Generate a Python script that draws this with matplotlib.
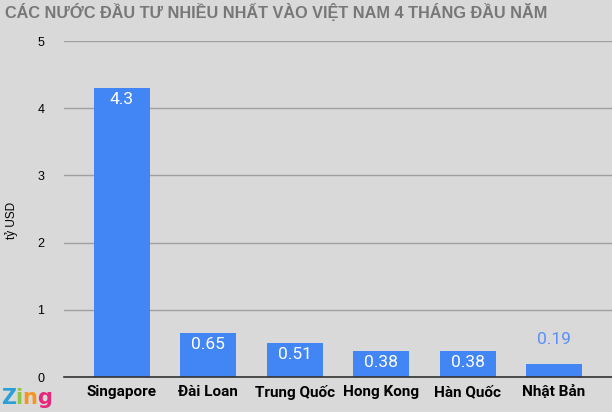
import matplotlib.pyplot as plt
import matplotlib.font_manager as fm

# dữ liệu
countries = ["Singapore", "Đài Loan", "Trung Quốc", "Hong Kong", "Hàn Quốc", "Nhật Bản"]
values = [4.3, 0.65, 0.51, 0.38, 0.38, 0.19]
value_labels = ["4.3", "0.65", "0.51", "0.38", "0.38", "0.19"]
yticks = [0, 1, 2, 3, 4, 5]

bg = "#d9d9d9"
bar_color = "#4285f4"

names = {f.name for f in fm.fontManager.ttflist}
narrow = "Liberation Sans Narrow" if "Liberation Sans Narrow" in names else "Liberation Sans"
plt.rcParams['font.family'] = ["Roboto", "DejaVu Sans"]

fig = plt.figure(figsize=(6.12, 4.12), dpi=100, facecolor=bg)
ax = fig.add_axes([64 / 612, 1 - 377 / 412, 548 / 612, 336 / 412], facecolor=bg)

x = list(range(len(countries)))
ax.bar(x, values, width=0.65, color=bar_color, zorder=3)

for i, (v, lab) in enumerate(zip(values, value_labels)):
    if v > 0.3:
        ax.text(i, v - 0.06, lab, ha="center", va="top", color="white", fontsize=12.5, zorder=4)
    else:
        ax.text(i, v + 0.26, lab, ha="center", va="bottom", color="#5b8ff9", fontsize=12.5, zorder=4)

ax.set_ylim(0, 5)
ax.set_xlim(-0.67, 5.67)
ax.set_yticks(yticks)
ax.set_yticklabels([str(t) for t in yticks], fontsize=9, family=["Liberation Sans"])
ax.set_xticks(x)
ax.set_xticklabels(countries, fontsize=11, fontweight="bold", family=["Roboto", "DejaVu Sans"])
ax.tick_params(axis="y", length=0, pad=14)
ax.tick_params(axis="x", length=0, pad=6)
ax.grid(axis="y", color="#a0a0a0", linewidth=1, zorder=0)
ax.set_axisbelow(True)
for s in ["top", "right", "left"]:
    ax.spines[s].set_visible(False)
ax.spines["bottom"].set_color("#333333")
ax.spines["bottom"].set_linewidth(1.2)
ax.spines["bottom"].set_zorder(5)

fig.text(12 / 612, 1 - 220 / 412, "tỷ USD", rotation=90, ha="center", va="center",
         fontsize=8.5, family=["Liberation Sans"])

fig.text(5 / 612, 1 - 12 / 412, "CÁC NƯỚC ĐẦU TƯ NHIỀU NHẤT VÀO VIỆT NAM 4 THÁNG ĐẦU NĂM",
         ha="left", va="center", fontsize=11.7, fontweight="bold", color="#777777",
         family=[narrow, "DejaVu Sans"])

# logo Zing
logo = [("Z", "#2a9fd8", 1), ("i", "#8dc63f", 15), ("n", "#f7941d", 22), ("g", "#e4287c", 37)]
for ch, col, lx in logo:
    fig.text(lx / 612, 1 - 398 / 412, ch, ha="left", va="center", fontsize=15,
             fontweight="bold", color=col, family=["DejaVu Sans"])

fig.savefig("out.png", dpi=100, facecolor=bg)
